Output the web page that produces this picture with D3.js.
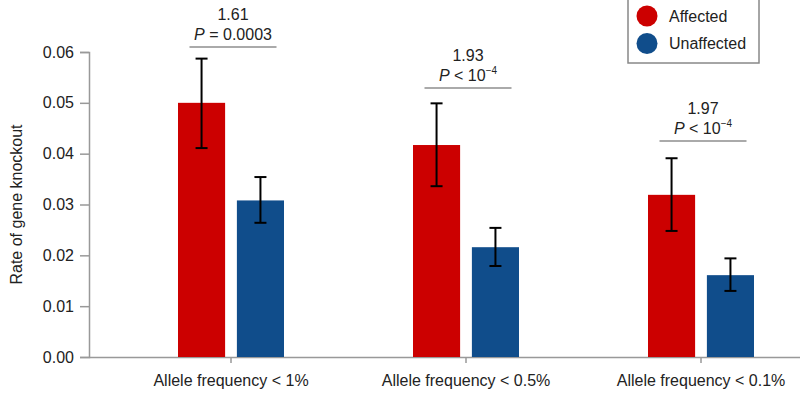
<!DOCTYPE html>
<html>
<head>
<meta charset="utf-8">
<script src="https://cdn.jsdelivr.net/npm/d3@7"></script>
<style>
  body { margin: 0; background: #fff; }
  text { font-family: "Liberation Sans", Arial, sans-serif; fill: #222; }
</style>
</head>
<body>
<div id="chart"></div>
<script>
// categories and series
const categories = ["Allele frequency < 1%", "Allele frequency < 0.5%", "Allele frequency < 0.1%"];
const series = ["Affected", "Unaffected"];
const seriesColors = ["#cc0000", "#104d8b"];

// bar heights (rate of gene knockout)
const affected = [0.0500, 0.0417, 0.0319];
const unaffected = [0.0308, 0.0216, 0.0161];

// error bar bounds
const affectedLow = [0.0411, 0.0336, 0.0248];
const affectedHigh = [0.0587, 0.0499, 0.0391];
const unaffectedLow = [0.0264, 0.0179, 0.0130];
const unaffectedHigh = [0.0354, 0.0254, 0.0194];

// annotation: odds ratio, p value, bracket level
const ratios = ["1.61", "1.93", "1.97"];
const pValues = ["= 0.0003", "< 10", "< 10"];
const pExponents = ["", "\u22124", "\u22124"];
const bracketLevel = [0.0610, 0.0529, 0.0425];

const yTicks = [0, 0.01, 0.02, 0.03, 0.04, 0.05, 0.06];

const width = 800, height = 397;
const svg = d3.select("#chart").append("svg")
    .attr("width", width)
    .attr("height", height);

let x = d3.scaleBand()
    .domain(categories)
    .range([113.5, 818.5]);

let xSub = d3.scaleBand()
    .domain(series)
    .range([-53, 53])
    .paddingInner(0.2);

let y = d3.scaleLinear()
    .domain([0, 0.06])
    .range([357, 52]);

let center = c => x(c) + x.bandwidth() / 2;

// build rows for bars
let rows = [];
categories.forEach((c, i) => {
    rows.push({cat: c, s: series[0], v: affected[i], lo: affectedLow[i], hi: affectedHigh[i], color: seriesColors[0]});
    rows.push({cat: c, s: series[1], v: unaffected[i], lo: unaffectedLow[i], hi: unaffectedHigh[i], color: seriesColors[1]});
});

// y axis
let yAxis = d3.axisLeft(y)
    .tickValues(yTicks)
    .tickFormat(d3.format(".2f"))
    .tickSize(9)
    .tickPadding(6);

let yg = svg.append("g")
    .attr("transform", "translate(89,0)")
    .call(yAxis);
yg.select(".domain").attr("stroke", "#999").attr("stroke-width", 1.5);
yg.selectAll(".tick line").attr("stroke", "#999").attr("stroke-width", 1.5);
yg.selectAll(".tick text").style("font-size", "16px").attr("fill", "#222");

// x axis
let xAxis = d3.axisBottom(x)
    .tickSize(6)
    .tickPadding(12)
    .tickSizeOuter(0);

let xg = svg.append("g")
    .attr("transform", "translate(0,357)")
    .call(xAxis);
xg.select(".domain").attr("d", "M89,0.5H800").attr("stroke", "#999").attr("stroke-width", 1.5);
xg.selectAll(".tick line").attr("stroke", "#999").attr("stroke-width", 1.5);
xg.selectAll(".tick text").style("font-size", "16px").attr("fill", "#222");

// y axis title
svg.append("text")
    .attr("transform", "translate(22,204.5) rotate(-90)")
    .attr("text-anchor", "middle")
    .style("font-size", "16px")
    .text("Rate of gene knockout");

// bars
svg.append("g")
    .selectAll("rect")
    .data(rows)
    .enter()
    .append("rect")
    .attr("x", d => center(d.cat) + xSub(d.s))
    .attr("y", d => y(d.v))
    .attr("width", xSub.bandwidth())
    .attr("height", d => y(0) - y(d.v))
    .attr("fill", d => d.color);

// error bars
let err = svg.append("g")
    .attr("stroke", "#000")
    .attr("stroke-width", 2)
    .selectAll("g")
    .data(rows)
    .enter()
    .append("g")
    .attr("transform", d => `translate(${center(d.cat) + xSub(d.s) + xSub.bandwidth() / 2},0)`);

err.append("line")
    .attr("y1", d => y(d.lo))
    .attr("y2", d => y(d.hi));
err.append("line")
    .attr("x1", -6).attr("x2", 6)
    .attr("y1", d => y(d.hi)).attr("y2", d => y(d.hi));
err.append("line")
    .attr("x1", -6).attr("x2", 6)
    .attr("y1", d => y(d.lo)).attr("y2", d => y(d.lo));

// annotations
let ann = svg.append("g")
    .selectAll("g")
    .data(categories)
    .enter()
    .append("g")
    .attr("transform", (d, i) => `translate(${center(d) + 2},${y(bracketLevel[i])})`);

ann.append("line")
    .attr("x1", -43.5).attr("x2", 43.5)
    .attr("stroke", "#aaa")
    .attr("stroke-width", 2);

ann.append("text")
    .attr("y", -27)
    .attr("text-anchor", "middle")
    .style("font-size", "16px")
    .text((d, i) => ratios[i]);

let pText = ann.append("text")
    .attr("y", -7)
    .attr("text-anchor", "middle")
    .style("font-size", "16px");
pText.append("tspan")
    .style("font-style", "italic")
    .text("P");
pText.append("tspan")
    .text((d, i) => " " + pValues[i]);
pText.append("tspan")
    .attr("dy", -7)
    .style("font-size", "10px")
    .text((d, i) => pExponents[i]);

// legend
let legend = svg.append("g");
legend.append("rect")
    .attr("x", 628).attr("y", -1)
    .attr("width", 131).attr("height", 64)
    .attr("fill", "#fff")
    .attr("stroke", "#888")
    .attr("stroke-width", 1.5);

let li = legend.selectAll(".item")
    .data(series)
    .enter()
    .append("g")
    .attr("class", "item")
    .attr("transform", (d, i) => `translate(647,${16 + i * 27.5})`);
li.append("circle")
    .attr("r", 10.5)
    .attr("fill", (d, i) => seriesColors[i]);
li.append("text")
    .attr("x", 22)
    .attr("dy", "0.35em")
    .style("font-size", "16px")
    .text(d => d);
</script>
</body>
</html>
